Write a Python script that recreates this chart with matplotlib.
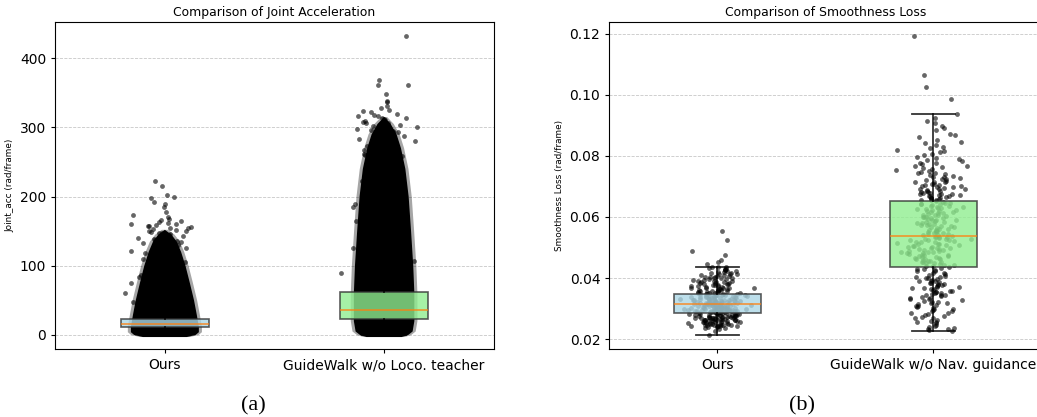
import numpy as np
import matplotlib.pyplot as plt
from statistics import NormalDist

# ---- (a) joint acceleration ----
acc_labels = ["Ours", "GuideWalk w/o Loco. teacher"]
acc_q1 = [11.1, 22.7]
acc_med = [15.9, 35.7]
acc_q3 = [22.7, 61.7]
acc_whislo = [0.0, 0.0]
acc_whishi = [40.0, 120.0]

# solid part of each point cloud: value levels and half width (x units)
ours_core_y = [-3, 0, 4, 12, 30, 50, 75, 100, 120, 135, 145, 152]
ours_core_w = [0.10, 0.14, 0.155, 0.155, 0.145, 0.133, 0.114, 0.094, 0.074, 0.054, 0.03, 0.0]
gw_core_y = [-3, 0, 5, 20, 60, 100, 150, 200, 240, 270, 290, 305, 315]
gw_core_w = [0.08, 0.11, 0.13, 0.138, 0.138, 0.133, 0.123, 0.112, 0.097, 0.077, 0.057, 0.03, 0.0]

# sparse points around the solid part
ours_sparse = [223, 216, 202, 199, 198, 192, 190, 185, 178, 174, 171, 168, 166, 165,
               163, 162, 161, 160, 159, 158, 157, 156, 155, 154, 153, 152, 151, 150,
               149, 148, 147, 146, 145, 144, 143, 141, 140, 139, 138, 136, 135, 134,
               133, 131, 130, 128, 126, 124, 122, 119, 117, 114, 112, 110, 106, 101,
               97, 95, 92, 90, 88, 86, 84, 82, 80, 78, 75, 72, 70, 67, 64, 62, 60, 57,
               55, 52, 50, 47, 45, 42, 38, 35, 30, 27, 24, 20, 16, 12, 8, 5]
gw_sparse = [432, 368, 362, 361, 348, 338, 337, 331, 328, 325, 324, 322, 320, 318, 317,
             316, 314, 313, 312, 311, 310, 309, 308, 307, 306, 305, 304, 303, 302, 300,
             299, 298, 297, 296, 295, 294, 293, 291, 290, 289, 288, 287, 285, 284, 283,
             282, 280, 279, 278, 276, 275, 274, 273, 272, 270, 268, 266, 264, 262, 260,
             258, 255, 252, 250, 248, 245, 242, 240, 237, 235, 232, 230, 227, 225, 222,
             218, 215, 212, 210, 205, 200, 195, 190, 185, 180, 175, 170, 165, 160, 155,
             150, 145, 140, 135, 130, 125, 120, 115, 110, 107, 103, 100, 95, 90, 85, 80,
             70, 60, 50, 40, 30, 20, 13, 8]

# ---- (b) smoothness loss ----
sm_labels = ["Ours", "GuideWalk w/o Nav. guidance"]
sm_q1 = [0.0287, 0.0436]
sm_med = [0.0315, 0.0538]
sm_q3 = [0.0347, 0.0653]
sm_whislo = [0.0215, 0.0227]
sm_whishi = [0.0437, 0.0938]

# values in 1e-4 units
sm_ours = [215, 228, 233, 236, 238, 239, 241, 242, 243, 244, 244, 246, 247, 248, 249,
           251, 252, 252, 254, 255, 256, 257, 258, 258, 259, 261, 262, 263, 263, 264,
           265, 266, 267, 268, 268, 269, 270, 271, 272, 273, 274, 274, 275, 276, 277,
           278, 279, 280, 281, 282, 283, 284, 285, 286, 287, 288,
           288, 289, 289, 290, 290, 291, 292, 292, 293, 293, 294, 295, 295, 296, 296,
           297, 298, 298, 299, 300, 300, 301, 301, 302, 303, 303, 304, 305, 305, 306,
           306, 307, 308, 308, 309, 310, 310, 311, 311, 312, 313, 313, 314, 314, 315,
           315, 316, 317, 317, 318, 319, 320, 320, 321, 322, 323, 323, 324, 325, 326,
           327, 327, 328, 329, 330, 331, 332, 332, 333, 334, 335, 336, 337, 338, 339,
           340, 341, 342, 342, 343, 344, 345, 346, 347,
           348, 349, 351, 352, 353, 355, 356, 357, 359, 360, 362, 363, 365, 366, 368,
           369, 371, 373, 374, 376, 378, 380, 382, 384, 386, 388, 390, 392, 395, 397,
           399, 402, 404, 407, 409, 412, 414, 417, 420, 423, 426, 429, 432, 435, 437,
           445, 452, 460, 475, 489, 525, 555,
           242, 245, 248, 250, 253, 255, 257, 260, 262, 264, 266, 268, 270, 272, 274,
           276, 277, 279, 281, 283, 285, 286, 288, 290, 291, 293, 294, 296, 297, 299,
           300, 302, 303, 305, 306, 308, 309, 311, 312, 314, 316, 318, 319, 321, 322,
           324, 326, 328, 330, 333, 335, 337, 340, 342, 344, 347, 349, 352, 354, 357,
           359, 362, 365, 368, 371, 374, 377, 380, 383, 386, 390, 393, 396, 399, 403,
           406, 410, 414, 418, 422, 427, 431, 436, 251, 263, 278, 292, 301, 313, 325,
           338, 351, 367, 384, 401, 419, 247, 269, 295, 317]
sm_gw = [227, 230, 234, 238, 243, 247, 253, 256, 261, 263, 268, 271, 276, 279, 284,
         286, 291, 293, 297, 299, 302, 306, 308, 312, 314, 318, 320, 323, 325, 329,
         330, 334, 335, 338, 341, 343, 346, 348, 351, 353, 356, 358, 361, 363, 367,
         369, 372, 376, 378, 382, 385, 389, 392, 397, 401, 405, 411, 416, 423, 431,
         437, 440, 441, 444, 445, 448, 449, 452, 453, 456, 457, 459, 461, 462, 465,
         466, 468, 470, 471, 474, 475, 477, 478, 481, 482, 484, 485, 488, 489, 491,
         492, 495, 496, 498, 499, 502, 503, 505, 506, 509, 510, 512, 513, 516, 517,
         519, 520, 523, 524, 526, 528, 529, 531, 533, 534, 536, 537,
         540, 541, 544, 546, 547, 550, 552, 553, 556, 558, 561, 562, 565, 566, 569,
         571, 573, 574, 577, 578, 581, 583, 584, 587, 589, 591, 592, 595, 597, 599,
         600, 603, 605, 607, 608, 611, 613, 615, 617, 619, 621, 622, 625, 627, 629,
         630, 633, 635, 637, 639, 641, 643, 644, 647, 649, 651,
         655, 657, 660, 661, 663, 665, 668, 669, 672, 674, 675, 678, 680, 683, 686,
         688, 691, 693, 697, 700, 702, 706, 709, 713, 716, 718, 723, 727, 730, 735,
         739, 744, 748, 752, 758, 762, 766, 772, 778, 783, 790, 797, 803, 811, 818,
         825, 835, 843, 851, 863, 871, 884, 897, 908, 923, 938, 985, 1025, 1064, 1191,
         345, 352, 359, 364, 370, 375, 379, 383, 387, 391, 395, 399, 403, 408, 413,
         418, 422, 426, 430, 434, 443, 451, 463, 472, 486, 497, 508, 518, 527, 535,
         545, 555, 567, 579, 590, 601, 612, 623, 634, 645, 656, 662, 667, 671, 676,
         681, 685, 690, 695, 699, 704, 708, 714, 720, 725, 732, 738, 745, 753, 760,
         768, 776, 785, 794, 806, 815, 828, 846, 867, 890, 915, 298, 310, 322, 333,
         285, 270, 255, 240, 232]


def jitter(n, pos, sd=0.06):
    # deterministic hash -> normal offsets for horizontal spread
    nd = NormalDist()
    k = np.arange(n) + 1.0
    u = np.abs(np.sin(k * 12.9898 + pos * 78.233) * 43758.5453) % 1.0
    u = np.clip(u, 2e-3, 1 - 2e-3)
    return pos + sd * np.array([nd.inv_cdf(v) for v in u])


def draw_box(ax, labels, q1, med, q3, lo, hi):
    stats = [dict(label=l, q1=a, med=m, q3=b, whislo=w0, whishi=w1)
             for l, a, m, b, w0, w1 in zip(labels, q1, med, q3, lo, hi)]
    bp = ax.bxp(stats, positions=[1, 2], widths=0.4, patch_artist=True,
                showfliers=False, zorder=3)
    for patch, c in zip(bp['boxes'], ['lightblue', 'lightgreen']):
        patch.set_facecolor(c)
        patch.set_edgecolor('#333333')
        patch.set_linewidth(1.2)
    for key in ['whiskers', 'caps']:
        for ln in bp[key]:
            ln.set_color('black')
            ln.set_linewidth(1.3)
    for ln in bp['medians']:
        ln.set_color('#ff7f0e')
        ln.set_linewidth(1.2)
    for key in ['boxes', 'whiskers', 'caps', 'medians']:
        for art in bp[key]:
            art.set_alpha(0.8)


def style_ax(ax, title, ylabel):
    ax.set_title(title, fontsize=8.9, pad=4)
    ax.set_ylabel(ylabel, fontsize=6.4, labelpad=4)
    ax.yaxis.grid(True, linestyle='--', linewidth=0.6, color='#b0b0b0', alpha=0.7)
    ax.set_axisbelow(True)
    ax.tick_params(axis='both', labelsize=10, length=3)
    ax.set_xlim(0.5, 2.5)


fig = plt.figure(figsize=(10.37, 4.17), dpi=100)
ax1 = fig.add_axes([0.0533, 0.1624, 0.4228, 0.7856])
ax2 = fig.add_axes([0.5876, 0.1624, 0.4166, 0.7856])

# (a) solid cloud with a thin soft edge, then the sparse points
for pos, cy, cw in [(1, ours_core_y, ours_core_w), (2, gw_core_y, gw_core_w)]:
    cy = np.array(cy)
    cw = np.array(cw)
    for extra, a in [(0.014, 0.35), (0.0, 1.0)]:
        ax1.fill_betweenx(cy, pos - cw - extra, pos + cw + extra, facecolor='black',
                          alpha=a, linewidth=0, zorder=2)
for pos, vals in [(1, ours_sparse), (2, gw_sparse)]:
    vals = np.array(vals, dtype=float)
    ax1.scatter(jitter(len(vals), pos, sd=0.07), vals, s=12, color='black', alpha=0.6,
                linewidths=0, zorder=2)
draw_box(ax1, acc_labels, acc_q1, acc_med, acc_q3, acc_whislo, acc_whishi)
style_ax(ax1, "Comparison of Joint Acceleration", "Joint_acc (rad/frame)")
ax1.set_ylim(-20.7, 452.9)
ax1.set_yticks([0, 100, 200, 300, 400])

# (b)
for pos, vals in [(1, sm_ours), (2, sm_gw)]:
    vals = np.array(vals, dtype=float) / 10000
    ax2.scatter(jitter(len(vals), pos), vals, s=12, color='black', alpha=0.6,
                linewidths=0, zorder=2)
draw_box(ax2, sm_labels, sm_q1, sm_med, sm_q3, sm_whislo, sm_whishi)
style_ax(ax2, "Comparison of Smoothness Loss", "Smoothness Loss (rad/frame)")
ax2.set_ylim(0.0167, 0.1239)
ax2.set_yticks([0.02, 0.04, 0.06, 0.08, 0.10, 0.12])
ax2.set_yticklabels(["0.02", "0.04", "0.06", "0.08", "0.10", "0.12"])

fig.text(0.2447, 0.026, "(a)", ha='center', va='center', fontsize=16,
         family='Liberation Serif')
fig.text(0.7737, 0.026, "(b)", ha='center', va='center', fontsize=16,
         family='Liberation Serif')

fig.savefig("out.png", dpi=100)
